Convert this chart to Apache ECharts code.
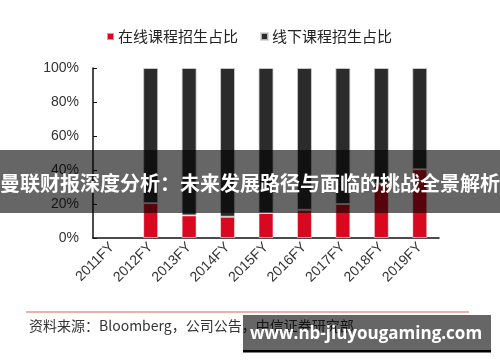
<!DOCTYPE html>
<html>
<head>
<meta charset="utf-8">
<script src="https://cdn.jsdelivr.net/npm/echarts@6/dist/echarts.min.js"></script>
<style>
html,body{margin:0;padding:0;background:#fff;}
#c{width:500px;height:362px;}
</style>
</head>
<body>
<div id="c"></div>
<script>
const categories = ['2011FY','2012FY','2013FY','2014FY','2015FY','2016FY','2017FY','2018FY','2019FY'];
const onlineShare = [null, 20.5, 13.3, 12.5, 14.7, 16.6, 20.0, 32.0, 40.4];
const offlineShare = [null, 79.5, 86.7, 87.5, 85.3, 83.4, 80.0, 68.0, 59.6];
const yTicks = [0, 20, 40, 60, 80, 100];
const seriesNames = ['在线课程招生占比', '线下课程招生占比'];
const overlayTitle = '曼联财报深度分析：未来发展路径与面临的挑战全景解析';
const sourceNote = '资料来源：Bloomberg，公司公告，中信证券研究部';
const watermark = 'www.nb-jiuyougaming.com';

const chart = echarts.init(document.getElementById('c'), null, {renderer: 'canvas'});
const cjk = '"Liberation Sans", Arial, "Noto Sans CJK SC", sans-serif';
chart.setOption({
  animation: false,
  backgroundColor: '#fff',
  grid: {left: 93, right: 61, top: 68, bottom: 124, containLabel: false},
  legend: {
    top: 24, left: 101,
    itemWidth: 7, itemHeight: 7, itemGap: 22,
    icon: 'rect',
    textStyle: {fontSize: 15, color: '#222', fontFamily: '"Noto Sans CJK SC", sans-serif', padding: [0,0,0,-1]},
    data: seriesNames
  },
  xAxis: {
    type: 'category',
    data: categories,
    axisLine: {lineStyle: {color: '#111', width: 1.5}},
    axisTick: {show: false},
    axisLabel: {rotate: 45, fontSize: 14, color: '#333', margin: 7, fontFamily: cjk, interval: 0}
  },
  yAxis: {
    type: 'value', min: yTicks[0], max: yTicks[yTicks.length-1], interval: 20,
    axisLine: {show: true, lineStyle: {color: '#111', width: 1.5}},
    axisTick: {show: true, inside: true, length: 4, lineStyle: {color: '#111'}},
    splitLine: {show: false},
    axisLabel: {formatter: '{value}%', fontSize: 14, color: '#333', margin: 14, fontFamily: cjk}
  },
  series: [
    {name: seriesNames[0], type: 'bar', stack: 's', data: onlineShare, barWidth: 15,
     itemStyle: {color: '#d7081f', borderColor: 'rgba(255,255,255,0.55)', borderWidth: 1}},
    {name: seriesNames[1], type: 'bar', stack: 's', data: offlineShare, barWidth: 15,
     itemStyle: {color: '#2b2b2b', borderColor: 'rgba(210,210,210,0.8)', borderWidth: 1}}
  ],
  graphic: [
    {type: 'rect', z: 100, shape: {x: 0, y: 150, width: 500, height: 63}, style: {fill: 'rgba(0,0,0,0.6)'}},
    {type: 'text', z: 101, x: 250, y: 183, style: {text: overlayTitle, fill: '#fff', font: 'bold 20px "Noto Sans CJK SC", sans-serif', textAlign: 'center', textVerticalAlign: 'middle'}},
    {type: 'line', z: 100, shape: {x1: 26, y1: 312, x2: 469, y2: 312}, style: {stroke: '#e99393', lineWidth: 1.5}},
    {type: 'text', z: 100, x: 29, y: 326, style: {text: sourceNote, fill: '#333', font: '14px "Noto Sans CJK SC", sans-serif', textVerticalAlign: 'middle'}},
    {type: 'rect', z: 102, shape: {x: 243, y: 315, width: 248, height: 36}, style: {fill: 'rgba(0,0,0,0.6)'}},
    {type: 'rect', z: 102, shape: {x: 243, y: 350, width: 248, height: 2.5}, style: {fill: '#000'}},
    {type: 'text', z: 103, x: 366, y: 334, style: {text: watermark, fill: '#fff', font: 'bold 17px "Open Sans", sans-serif', textAlign: 'center', textVerticalAlign: 'middle'}}
  ]
});
</script>
</body>
</html>
